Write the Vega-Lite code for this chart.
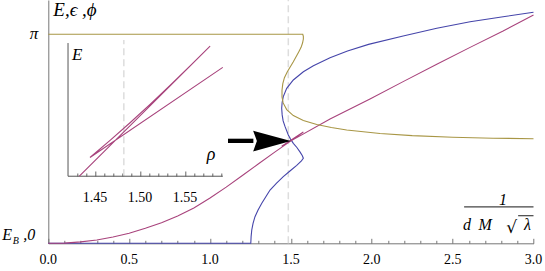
{
  "$schema": "https://vega.github.io/schema/vega-lite/v6.json",
  "width": 485.2,
  "height": 243.3,
  "autosize": {"type": "none"},
  "padding": {"left": 48.3, "top": 0, "right": 11.5, "bottom": 27.7},
  "config": {"view": {"stroke": null}, "font": "Liberation Serif"},
  "layer": [
    {
      "encoding": {
        "x": {"field": "x", "type": "quantitative",
          "scale": {"domain": [0, 3], "nice": false, "zero": false},
          "axis": {
            "orient": "bottom", "title": null, "grid": false, "labels": false,
            "values": [0,0.1,0.2,0.3,0.4,0.5,0.6,0.7,0.8,0.9,1,1.1,1.2,1.3,1.4,1.5,1.6,1.7,1.8,1.9,2,2.1,2.2,2.3,2.4,2.5,2.6,2.7,2.8,2.9,3],
            "tickSize": {"condition": {"test": "abs(datum.value*2-round(datum.value*2))<0.001", "value": -5}, "value": -3},
            "domainColor": "#777", "tickColor": "#777"
          }},
        "y": {"field": "y", "type": "quantitative",
          "scale": {"domain": [0, 3.657], "nice": false, "zero": false},
          "axis": {"orient": "left", "title": null, "grid": false, "ticks": false, "labels": false, "domainColor": "#777"}}
      },
      "layer": [
        {
          "data": {"values": [{"x": 1.484, "y": 0, "y2": 3.657}]},
          "mark": {"type": "rule", "strokeDash": [7, 4], "color": "#dddddd", "strokeWidth": 1.5},
          "encoding": {"y2": {"field": "y2"}}
        },
        {
          "data": {"values": [
            {"s": "eps", "t": 0, "x": 0, "y": 0},
            {"s": "eps", "t": 1, "x": 1.252, "y": 0},
            {"s": "eps", "t": 2, "x": 1.254, "y": 0.1},
            {"s": "eps", "t": 3, "x": 1.258, "y": 0.2},
            {"s": "eps", "t": 4, "x": 1.266, "y": 0.3},
            {"s": "eps", "t": 5, "x": 1.278, "y": 0.4},
            {"s": "eps", "t": 6, "x": 1.297, "y": 0.5},
            {"s": "eps", "t": 7, "x": 1.32, "y": 0.601},
            {"s": "eps", "t": 8, "x": 1.345, "y": 0.7},
            {"s": "eps", "t": 9, "x": 1.371, "y": 0.801},
            {"s": "eps", "t": 10, "x": 1.41, "y": 0.9},
            {"s": "eps", "t": 11, "x": 1.453, "y": 1.001},
            {"s": "eps", "t": 12, "x": 1.496, "y": 1.09},
            {"s": "eps", "t": 13, "x": 1.536, "y": 1.172},
            {"s": "eps", "t": 14, "x": 1.565, "y": 1.24},
            {"s": "eps", "t": 15, "x": 1.577, "y": 1.278},
            {"s": "eps", "t": 16, "x": 1.57, "y": 1.32},
            {"s": "eps", "t": 17, "x": 1.557, "y": 1.37},
            {"s": "eps", "t": 18, "x": 1.537, "y": 1.44},
            {"s": "eps", "t": 19, "x": 1.515, "y": 1.503},
            {"s": "eps", "t": 20, "x": 1.497, "y": 1.57},
            {"s": "eps", "t": 21, "x": 1.484, "y": 1.628},
            {"s": "eps", "t": 22, "x": 1.464, "y": 1.753},
            {"s": "eps", "t": 23, "x": 1.452, "y": 1.84},
            {"s": "eps", "t": 24, "x": 1.446, "y": 1.93},
            {"s": "eps", "t": 25, "x": 1.443, "y": 2.029},
            {"s": "eps", "t": 26, "x": 1.446, "y": 2.12},
            {"s": "eps", "t": 27, "x": 1.453, "y": 2.204},
            {"s": "eps", "t": 28, "x": 1.474, "y": 2.33},
            {"s": "eps", "t": 29, "x": 1.515, "y": 2.455},
            {"s": "eps", "t": 30, "x": 1.577, "y": 2.579},
            {"s": "eps", "t": 31, "x": 1.639, "y": 2.67},
            {"s": "eps", "t": 32, "x": 1.742, "y": 2.79},
            {"s": "eps", "t": 33, "x": 1.85, "y": 2.89},
            {"s": "eps", "t": 34, "x": 1.98, "y": 2.99},
            {"s": "eps", "t": 35, "x": 2.194, "y": 3.116},
            {"s": "eps", "t": 36, "x": 2.402, "y": 3.232},
            {"s": "eps", "t": 37, "x": 2.608, "y": 3.331},
            {"s": "eps", "t": 38, "x": 2.812, "y": 3.406},
            {"s": "eps", "t": 39, "x": 3.0, "y": 3.472},
            {"s": "E", "t": 0, "x": 0, "y": 0},
            {"s": "E", "t": 1, "x": 0.1, "y": 0.002},
            {"s": "E", "t": 2, "x": 0.2, "y": 0.022},
            {"s": "E", "t": 3, "x": 0.3, "y": 0.05},
            {"s": "E", "t": 4, "x": 0.4, "y": 0.095},
            {"s": "E", "t": 5, "x": 0.5, "y": 0.15},
            {"s": "E", "t": 6, "x": 0.6, "y": 0.225},
            {"s": "E", "t": 7, "x": 0.7, "y": 0.31},
            {"s": "E", "t": 8, "x": 0.8, "y": 0.41},
            {"s": "E", "t": 9, "x": 0.9, "y": 0.53},
            {"s": "E", "t": 10, "x": 1.0, "y": 0.68},
            {"s": "E", "t": 11, "x": 1.1, "y": 0.845},
            {"s": "E", "t": 12, "x": 1.2, "y": 1.02},
            {"s": "E", "t": 13, "x": 1.3, "y": 1.195},
            {"s": "E", "t": 14, "x": 1.4, "y": 1.37},
            {"s": "E", "t": 15, "x": 1.5, "y": 1.54},
            {"s": "E", "t": 16, "x": 1.577, "y": 1.672},
            {"s": "E", "t": 17, "x": 1.509, "y": 1.565},
            {"s": "E", "t": 18, "x": 1.443, "y": 1.458},
            {"s": "E", "t": 19, "x": 1.509, "y": 1.551},
            {"s": "E", "t": 20, "x": 1.742, "y": 1.868},
            {"s": "E", "t": 21, "x": 1.989, "y": 2.17},
            {"s": "E", "t": 22, "x": 2.194, "y": 2.43},
            {"s": "E", "t": 23, "x": 2.402, "y": 2.69},
            {"s": "E", "t": 24, "x": 2.608, "y": 2.945},
            {"s": "E", "t": 25, "x": 2.812, "y": 3.19},
            {"s": "E", "t": 26, "x": 3.0, "y": 3.432},
            {"s": "phi", "t": 0, "x": 0, "y": 3.1416},
            {"s": "phi", "t": 1, "x": 1.5733, "y": 3.1416},
            {"s": "phi", "t": 2, "x": 1.577, "y": 3.11},
            {"s": "phi", "t": 3, "x": 1.577, "y": 3.07},
            {"s": "phi", "t": 4, "x": 1.572, "y": 3.01},
            {"s": "phi", "t": 5, "x": 1.563, "y": 2.945},
            {"s": "phi", "t": 6, "x": 1.549, "y": 2.88},
            {"s": "phi", "t": 7, "x": 1.515, "y": 2.73},
            {"s": "phi", "t": 8, "x": 1.478, "y": 2.579},
            {"s": "phi", "t": 9, "x": 1.46, "y": 2.49},
            {"s": "phi", "t": 10, "x": 1.45, "y": 2.4},
            {"s": "phi", "t": 11, "x": 1.445, "y": 2.3},
            {"s": "phi", "t": 12, "x": 1.445, "y": 2.2},
            {"s": "phi", "t": 13, "x": 1.452, "y": 2.11},
            {"s": "phi", "t": 14, "x": 1.474, "y": 2.01},
            {"s": "phi", "t": 15, "x": 1.515, "y": 1.92},
            {"s": "phi", "t": 16, "x": 1.577, "y": 1.845},
            {"s": "phi", "t": 17, "x": 1.66, "y": 1.785},
            {"s": "phi", "t": 18, "x": 1.75, "y": 1.74},
            {"s": "phi", "t": 19, "x": 1.845, "y": 1.702},
            {"s": "phi", "t": 20, "x": 2.051, "y": 1.65},
            {"s": "phi", "t": 21, "x": 2.25, "y": 1.618},
            {"s": "phi", "t": 22, "x": 2.5, "y": 1.595},
            {"s": "phi", "t": 23, "x": 2.75, "y": 1.58},
            {"s": "phi", "t": 24, "x": 3.0, "y": 1.572}
          ]},
          "mark": {"type": "line", "strokeWidth": 1.1},
          "encoding": {
            "color": {"field": "s", "type": "nominal", "legend": null,
              "scale": {"domain": ["eps", "E", "phi"], "range": ["#4545aa", "#a8437c", "#a89645"]}},
            "order": {"field": "t", "type": "quantitative"}
          }
        },
        {
          "data": {"values": [{"x": 1.111, "x2": 1.268, "y": 1.54}]},
          "mark": {"type": "rule", "color": "black", "strokeWidth": 4.3},
          "encoding": {"x2": {"field": "x2"}}
        },
        {
          "data": {"values": [{"x": 1.383, "y": 1.537}]},
          "mark": {"type": "point", "shape": "M1,0L-1,-0.55L-0.8,0L-1,0.55Z", "size": 1421, "filled": true, "color": "black", "opacity": 1}
        },
        {
          "data": {"values": [{"x": 2.571, "x2": 3.0, "y": 0.546}, {"x": 2.905, "x2": 3.0, "y": 0.415}]},
          "mark": {"type": "rule", "color": "#444", "strokeWidth": 1.2},
          "encoding": {"x2": {"field": "x2"}}
        },
        {
          "data": {"values": [
            {"x": 0, "y": 0, "label": "0.0"},
            {"x": 0.5, "y": 0, "label": "0.5"},
            {"x": 1, "y": 0, "label": "1.0"},
            {"x": 1.5, "y": 0, "label": "1.5"},
            {"x": 2, "y": 0, "label": "2.0"},
            {"x": 2.5, "y": 0, "label": "2.5"},
            {"x": 3, "y": 0, "label": "3.0"}
          ]},
          "mark": {"type": "text", "font": "Liberation Serif", "fontSize": 14, "align": "center", "baseline": "alphabetic", "dy": 20.5, "color": "black"},
          "encoding": {"text": {"field": "label"}}
        },
        {
          "data": {"values": [
            {"x": 2.812, "y": 0.576, "label": "1"},
            {"x": 2.589, "y": 0.2, "label": "d"},
            {"x": 2.701, "y": 0.2, "label": "M"},
            {"x": 2.963, "y": 0.2, "label": "λ"}
          ]},
          "mark": {"type": "text", "font": "Liberation Serif", "fontStyle": "italic", "fontSize": 16, "align": "center", "baseline": "alphabetic", "color": "black"},
          "encoding": {"text": {"field": "label"}}
        },
        {
          "data": {"values": [{"x": 2.865, "y": 0.2, "label": "√"}]},
          "mark": {"type": "text", "font": "DejaVu Serif", "fontSize": 17, "align": "center", "baseline": "alphabetic", "color": "black", "dy": 3},
          "encoding": {"text": {"field": "label"}}
        },
        {
          "data": {"values": [{"x": 0, "y": 3.409, "label": "E,ϵ ,ϕ"}]},
          "mark": {"type": "text", "font": "Liberation Serif", "fontStyle": "italic", "fontSize": 19, "align": "left", "baseline": "alphabetic", "dx": 5, "color": "black"},
          "encoding": {"text": {"field": "label"}}
        },
        {
          "data": {"values": [{"x": 0, "y": 3.1416, "label": "π"}]},
          "mark": {"type": "text", "font": "Liberation Serif", "fontStyle": "italic", "fontSize": 17, "align": "right", "baseline": "middle", "dx": -10, "color": "black"},
          "encoding": {"text": {"field": "label"}}
        },
        {
          "data": {"values": [{"x": 0, "y": 0, "label": "E"}]},
          "mark": {"type": "text", "font": "Liberation Serif", "fontStyle": "italic", "fontSize": 16, "align": "left", "baseline": "alphabetic", "dx": -46, "dy": -3, "color": "black"},
          "encoding": {"text": {"field": "label"}}
        },
        {
          "data": {"values": [{"x": 0, "y": 0, "label": "B"}]},
          "mark": {"type": "text", "font": "Liberation Serif", "fontStyle": "italic", "fontSize": 10, "align": "left", "baseline": "alphabetic", "dx": -35.5, "dy": 0.5, "color": "black"},
          "encoding": {"text": {"field": "label"}}
        },
        {
          "data": {"values": [{"x": 0, "y": 0, "label": ",0"}]},
          "mark": {"type": "text", "font": "Liberation Serif", "fontStyle": "italic", "fontSize": 16, "align": "right", "baseline": "alphabetic", "dx": -13, "dy": -3, "color": "black"},
          "encoding": {"text": {"field": "label"}}
        }
      ]
    },
    {
      "encoding": {
        "x": {"field": "x", "type": "quantitative",
          "scale": {"domain": [1.3981, 1.937], "nice": false, "zero": false},
          "axis": {
            "orient": "bottom", "offset": -67.3, "title": null, "grid": false, "domain": false, "labels": false,
            "values": [1.43,1.44,1.45,1.46,1.47,1.48,1.49,1.5,1.51,1.52,1.53,1.54,1.55,1.56,1.57,1.58,1.59],
            "tickSize": {"condition": {"test": "abs(datum.value*20-round(datum.value*20))<0.001", "value": -5}, "value": -3},
            "tickColor": "#666"
          }},
        "y": {"field": "y", "type": "quantitative",
          "scale": {"domain": [1.3001, 1.8021], "nice": false, "zero": false},
          "axis": null}
      },
      "layer": [
        {
          "data": {"values": [{"x": 1.482, "y": 1.4385, "y2": 1.7195}]},
          "mark": {"type": "rule", "strokeDash": [7, 4], "color": "#dddddd", "strokeWidth": 1.5},
          "encoding": {"y2": {"field": "y2"}}
        },
        {
          "data": {"values": [
            {"x": 1.42, "y": 1.4385, "x2": 1.42, "y2": 1.7133},
            {"x": 1.42, "y": 1.4385, "x2": 1.5919, "y2": 1.4385}
          ]},
          "mark": {"type": "rule", "color": "#555", "strokeWidth": 1},
          "encoding": {"x2": {"field": "x2"}, "y2": {"field": "y2"}}
        },
        {
          "data": {"values": [
            {"t": 0, "x": 1.4326, "y": 1.4385},
            {"t": 1, "x": 1.5778, "y": 1.7071},
            {"t": 2, "x": 1.5556, "y": 1.6663},
            {"t": 3, "x": 1.5333, "y": 1.6261},
            {"t": 4, "x": 1.5111, "y": 1.5868},
            {"t": 5, "x": 1.4889, "y": 1.5488},
            {"t": 6, "x": 1.4667, "y": 1.5123},
            {"t": 7, "x": 1.4444, "y": 1.4772},
            {"t": 8, "x": 1.5919, "y": 1.6631}
          ]},
          "mark": {"type": "line", "color": "#a8437c", "strokeWidth": 1.1},
          "encoding": {"order": {"field": "t", "type": "quantitative"}}
        },
        {
          "data": {"values": [
            {"x": 1.45, "y": 1.4385, "label": "1.45"},
            {"x": 1.5, "y": 1.4385, "label": "1.50"},
            {"x": 1.55, "y": 1.4385, "label": "1.55"}
          ]},
          "mark": {"type": "text", "font": "Liberation Serif", "fontSize": 14, "align": "center", "baseline": "alphabetic", "dy": 25.5, "color": "black"},
          "encoding": {"text": {"field": "label"}}
        },
        {
          "data": {"values": [{"x": 1.42, "y": 1.6782, "label": "E"}]},
          "mark": {"type": "text", "font": "Liberation Serif", "fontStyle": "italic", "fontSize": 17, "align": "left", "baseline": "alphabetic", "dx": 4, "color": "black"},
          "encoding": {"text": {"field": "label"}}
        },
        {
          "data": {"values": [{"x": 1.5789, "y": 1.4716, "label": "ρ"}]},
          "mark": {"type": "text", "font": "Liberation Serif", "fontStyle": "italic", "fontSize": 18, "align": "center", "baseline": "alphabetic", "color": "black"},
          "encoding": {"text": {"field": "label"}}
        }
      ]
    }
  ],
  "resolve": {"scale": {"x": "independent", "y": "independent"}, "axis": {"x": "independent", "y": "independent"}}
}
